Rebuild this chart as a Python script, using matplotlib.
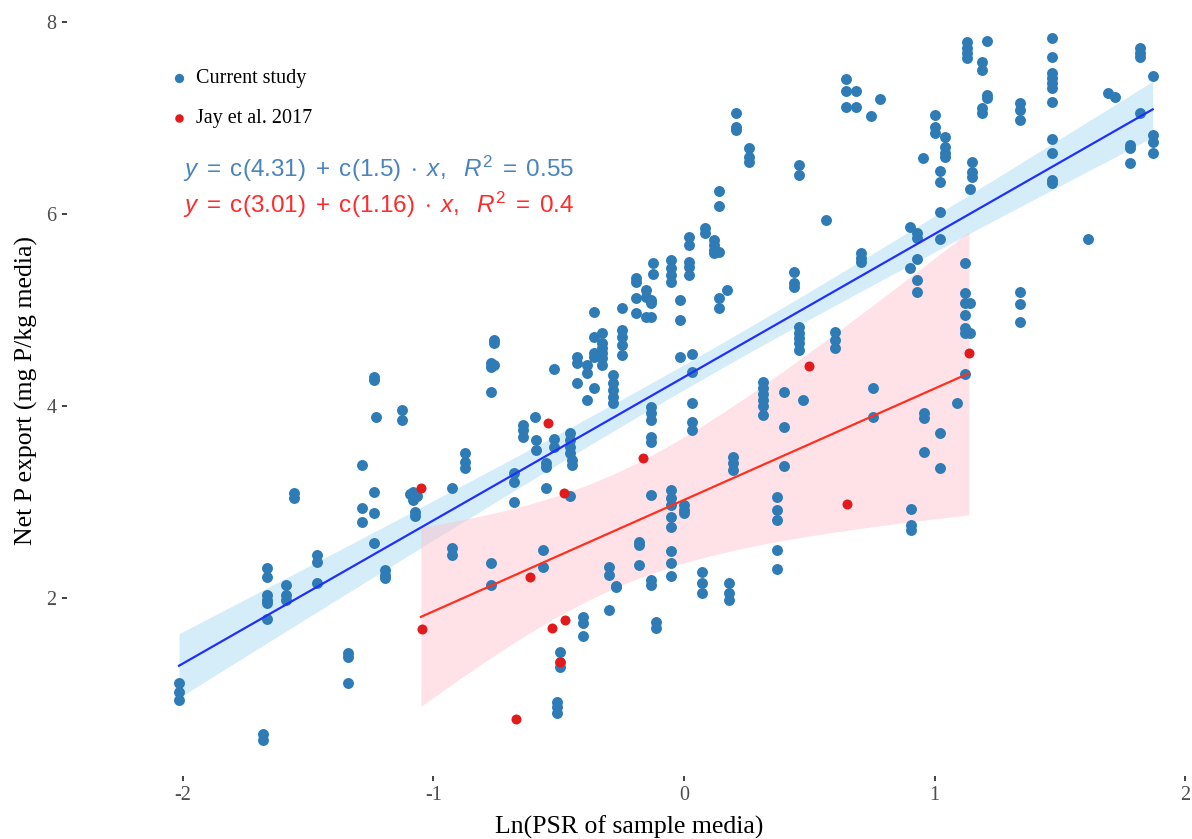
import numpy as np
import matplotlib
matplotlib.use('Agg')
import matplotlib.pyplot as plt

plt.rcParams['font.family'] = 'Liberation Serif'
plt.rcParams['axes.unicode_minus'] = False
plt.rcParams['mathtext.fontset'] = 'custom'
plt.rcParams['mathtext.rm'] = 'Liberation Sans'
plt.rcParams['mathtext.it'] = 'Liberation Sans:italic'

# data
# current study: x positions of the vertical clusters and the y values at each
blue_x = [-2.015, -1.68, -1.665, -1.59, -1.556, -1.465, -1.34, -1.285, -1.237, -1.229,
          -1.193, -1.125, -1.095, -1.08, -1.065, -1.073, -0.926, -0.874, -0.77, -0.757,
          -0.68, -0.642, -0.595, -0.591, -0.563, -0.551, -0.519, -0.507, -0.495, -0.455,
          -0.447, -0.427, -0.403, -0.387, -0.36, -0.327, -0.30, -0.283, -0.27, -0.247,
          -0.19, -0.18, -0.15, -0.13, -0.124, -0.112, -0.05, -0.016, 0.0, 0.02,
          0.032, 0.072, 0.084, 0.12, 0.14, 0.172, 0.18, 0.196, 0.207, 0.259,
          0.315, 0.371, 0.40, 0.439, 0.459, 0.46, 0.474, 0.567, 0.603, 0.646,
          0.686, 0.706, 0.746, 0.754, 0.782, 0.90, 0.906, 0.93, 0.955, 0.958,
          1.0, 1.02, 1.04, 1.09, 1.12, 1.13, 1.14, 1.15, 1.19, 1.21,
          1.34, 1.47, 1.612, 1.69, 1.72, 1.78, 1.82, 1.87]
blue_y = [[1.11, 1.02, 0.94], [0.58, 0.52], [2.31, 2.22, 2.03, 1.98, 1.95, 1.78],
          [2.14, 2.03, 1.98], [3.09, 3.04], [2.45, 2.38, 2.16], [1.43, 1.39, 1.11],
          [3.39, 2.94, 2.79], [4.30, 4.27, 3.10, 2.89, 2.57], [3.89],
          [2.29, 2.24, 2.21], [3.96, 3.85], [3.08], [3.02, 3.10], [3.06], [2.90, 2.85],
          [3.15, 2.52, 2.45], [3.51, 3.42, 3.35], [4.45, 4.41, 4.15, 2.36, 2.14],
          [4.69, 4.66, 4.43],
          [3.30, 3.21, 3.00], [3.80, 3.75, 3.68], [3.89], [3.65, 3.54], [2.50, 2.32],
          [3.41, 3.36, 3.15], [4.39, 3.66, 3.57], [0.92, 0.86, 0.80], [1.44, 1.33, 1.28],
          [3.72, 3.65, 3.57, 3.51, 3.06],
          [3.44, 3.39], [4.51, 4.45, 4.24], [1.80, 1.74, 1.60], [4.43, 4.34, 4.06],
          [4.98, 4.72, 4.55, 4.51, 4.19], [4.76, 4.66, 4.60, 4.55, 4.50, 4.43],
          [2.32, 2.24, 1.875], [4.32, 4.24, 4.17, 4.09, 4.03], [2.13, 2.11],
          [5.02, 4.79, 4.72, 4.64, 4.53],
          [5.33, 5.29, 5.12, 4.97], [2.58, 2.55, 2.34], [5.21, 5.14, 4.93],
          [5.10, 5.07, 4.93, 3.99, 3.93, 3.85, 3.68, 3.63, 3.07, 2.19, 2.14],
          [5.49, 5.37], [1.75, 1.69],
          [5.52, 5.44, 5.36, 5.29, 3.12, 3.04, 2.97, 2.84, 2.74, 2.49, 2.36, 2.23],
          [5.10, 4.90, 4.51], [2.97, 2.92, 2.89], [5.76, 5.68, 5.50, 5.45, 5.36],
          [4.54, 4.35, 4.03, 3.83, 3.75], [2.27, 2.16, 2.05], [5.85, 5.80],
          [5.73, 5.68, 5.63, 5.59], [6.24, 6.08, 5.60, 5.12, 5.02], [5.21],
          [2.16, 2.05, 1.98], [3.47, 3.41, 3.33], [7.05, 6.91, 6.88], [6.69, 6.59, 6.54],
          [4.25, 4.19, 4.13, 4.06, 4.00, 3.91], [3.05, 2.92, 2.81, 2.50, 2.30],
          [4.15, 3.78, 3.375], [5.40, 5.28, 5.24], [6.51, 6.41],
          [4.82, 4.76, 4.71, 4.66, 4.58], [4.06], [5.94], [4.77, 4.69, 4.60],
          [7.41, 7.28, 7.11],
          [7.28, 7.11], [5.59, 5.54, 5.50], [7.02], [4.19, 3.89], [7.20], [5.86, 5.44],
          [2.93, 2.76, 2.71], [5.80, 5.75, 5.53, 5.31, 5.19], [6.58], [3.93, 3.875, 3.52],
          [7.03, 6.91, 6.84], [6.45, 6.33, 6.02, 5.74, 3.72, 3.35], [6.80, 6.70, 6.64, 6.59],
          [4.03], [5.49, 5.18, 5.07, 4.95, 4.81, 4.76, 4.33], [7.79, 7.73, 7.68, 7.63],
          [6.26, 5.07, 4.76], [6.54, 6.44, 6.39], [7.58, 7.50, 7.10, 7.05], [7.80, 7.24, 7.21],
          [7.16, 7.08, 6.98, 5.19, 5.06, 4.875],
          [7.83, 7.64, 7.47, 7.42, 7.36, 7.31, 7.17, 6.78, 6.64, 6.35, 6.32],
          [5.74], [7.26], [7.22], [6.72, 6.69, 6.53], [7.73, 7.68, 7.64, 7.05],
          [7.44, 6.82, 6.75, 6.64]]

# Jay et al. 2017
red_x = [-1.05, -1.045, -0.67, -0.615, -0.543, -0.527, -0.495, -0.479, -0.475, -0.164, 0.50, 0.65, 1.137]
red_y = [3.15, 1.68, 0.74, 2.22, 3.82, 1.69, 1.33, 3.09, 1.77, 3.46, 4.42, 2.98, 4.55]

labels = ['Current study', 'Jay et al. 2017']
eq_text = [r'$y\;=\;\mathrm{c}(4.31)\;+\;\mathrm{c}(1.5)\;\cdot\;x,\ \ R^2\;=\;0.55$',
           r'$y\;=\;\mathrm{c}(3.01)\;+\;\mathrm{c}(1.16)\;\cdot\;x,\ \ R^2\;=\;0.4$']

# flatten the current-study clusters
bx = np.repeat(blue_x, [len(v) for v in blue_y])
by = np.concatenate([np.array(v, dtype=float) for v in blue_y])
rx = np.array(red_x)
ry = np.array(red_y)


def t975(df):
    # Cornish-Fisher approximation of the 97.5% t quantile
    z = 1.959964
    return (z + (z**3 + z) / (4 * df) + (5 * z**5 + 16 * z**3 + 3 * z) / (96 * df**2)
            + (3 * z**7 + 19 * z**5 + 17 * z**3 - 15 * z) / (384 * df**3))


def lm_band(x, y):
    # straight line fit with 95% confidence band, like geom_smooth(method='lm')
    n = len(x)
    b, a = np.polyfit(x, y, 1)
    xs = np.linspace(x.min(), x.max(), 100)
    fit = a + b * xs
    s = np.sqrt(np.sum((y - (a + b * x))**2) / (n - 2))
    se = s * np.sqrt(1 / n + (xs - x.mean())**2 / np.sum((x - x.mean())**2))
    return xs, fit, fit - t975(n - 2) * se, fit + t975(n - 2) * se


fig = plt.figure(figsize=(11.92, 8.39), dpi=100)
ax = fig.add_axes([67 / 1192, 63 / 839, 1125 / 1192, 771 / 839])

blue_pt = '#2e7bb6'
red_pt = '#e31a1c'

xs, fit, lo, hi = lm_band(bx, by)
ax.fill_between(xs, lo, hi, color='#87ceeb', alpha=0.35, lw=0, zorder=1)
ax.plot(xs, fit, color='#1f2fff', lw=1.6, zorder=3)

xs, fit, lo, hi = lm_band(rx, ry)
ax.fill_between(xs, lo, hi, color='#ffc0cb', alpha=0.45, lw=0, zorder=1)
ax.plot(xs, fit, color='#ff3020', lw=1.6, zorder=3)

sc1 = ax.scatter(bx, by, s=62, color=blue_pt, lw=0, zorder=2, label=labels[0])
sc2 = ax.scatter(rx, ry, s=52, color=red_pt, lw=0, zorder=2.5, label=labels[1])

ax.set_xlim(-2.462, 2.027)
ax.set_ylim(0.146, 8.177)
ax.set_xticks([-2, -1, 0, 1, 2])
ax.set_yticks([2, 4, 6, 8])

for s in ax.spines.values():
    s.set_visible(False)
ax.tick_params(length=3.5, width=1.3, color='#333333', labelcolor='#4d4d4d',
               labelsize=14.5, pad=4)

ax.set_xlabel('Ln(PSR of sample media)', fontsize=18.5, labelpad=7)
ax.set_ylabel('Net P export (mg P/kg media)', fontsize=18.5, labelpad=6)

leg = ax.legend(handles=[sc1, sc2], loc='upper left', bbox_to_anchor=(0.083, 0.930),
                frameon=False, fontsize=14.5, markerscale=0.85, handlelength=0.8,
                handletextpad=0.45, labelspacing=1.05, borderpad=0)

ax.text(0.103, 0.777, eq_text[0], transform=ax.transAxes, color='#4a83bd',
        fontsize=17.5, va='baseline')
ax.text(0.103, 0.730, eq_text[1], transform=ax.transAxes, color='#ff2b2b',
        fontsize=17.5, va='baseline')

fig.savefig('out.png', dpi=100)
